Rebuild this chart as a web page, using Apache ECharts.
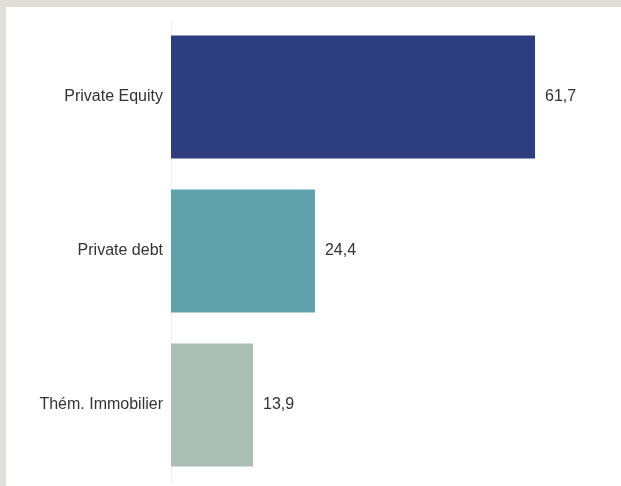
<!DOCTYPE html>
<html>
<head>
<meta charset="utf-8">
<script src="https://cdn.jsdelivr.net/npm/echarts@6/dist/echarts.min.js"></script>
<style>
html,body{margin:0;padding:0;background:#e1ddd9;width:621px;height:486px;overflow:hidden;}
#chart{position:absolute;left:0;top:0;width:621px;height:486px;}
#panel{position:absolute;left:6px;top:7px;right:0;bottom:0;background:#fff;}
</style>
</head>
<body>
<div id="panel"></div>
<div id="chart"></div>
<script>
const categories = ["Private Equity", "Private debt", "Thém. Immobilier"];
const values = [61.7, 24.4, 13.9];
const colors = ["#2e3d80", "#5fa2ac", "#acbfb6"];

const chart = echarts.init(document.getElementById('chart'), null, {renderer: 'canvas'});
chart.setOption({
  animation: false,
  backgroundColor: 'transparent',
  grid: {left: 171, top: 20, width: 413, bottom: 4, containLabel: false},
  xAxis: {
    type: 'value', min: 0, max: 70,
    show: false
  },
  yAxis: {
    type: 'category',
    data: categories,
    inverse: true,
    axisLine: {show: true, lineStyle: {color: '#eeeeee', width: 1}},
    axisTick: {show: false},
    axisLabel: {color: '#333333', fontSize: 16, fontFamily: 'Liberation Sans, Arial, sans-serif', margin: 8}
  },
  series: [{
    type: 'bar',
    data: values.map((v, i) => ({value: v, itemStyle: {color: colors[i]}})),
    barCategoryGap: '20%',
    label: {
      show: true, position: 'right', distance: 10,
      color: '#333333', fontSize: 16, fontFamily: 'Liberation Sans, Arial, sans-serif',
      formatter: p => String(p.value).replace('.', ',')
    }
  }]
});
</script>
</body>
</html>
